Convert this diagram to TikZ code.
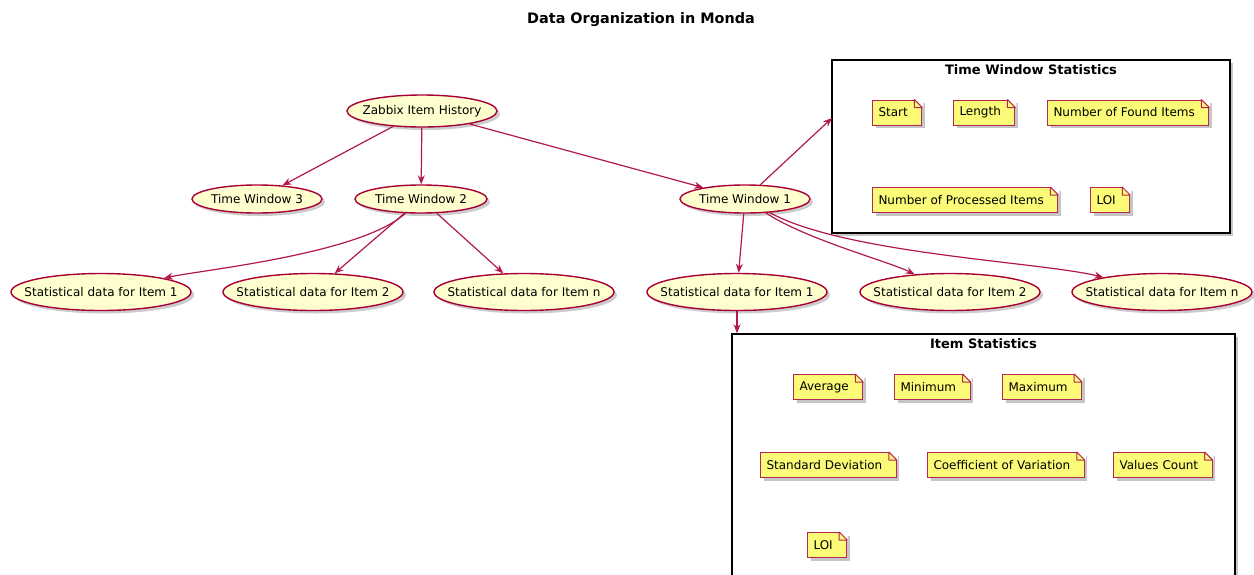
\documentclass[tikz,border=0pt]{standalone}
\usepackage{fontspec}
\setmainfont{DejaVu Sans}
\usetikzlibrary{shapes,arrows.meta,positioning,calc,shadows}

\definecolor{umlred}{HTML}{A80036}
\definecolor{ucfill}{HTML}{FEFECE}
\definecolor{notefill}{HTML}{FBFB77}

\tikzset{
    usecase/.style={ellipse, draw=umlred, line width=1.4pt, fill=ucfill, inner sep=0pt,
        minimum height=28pt, font=\fontsize{12}{14}\selectfont,
        drop shadow={shadow xshift=3pt, shadow yshift=-3pt, opacity=.4}},
    notebox/.style={rectangle, draw=umlred!85, line width=1pt, fill=notefill,
        inner xsep=6pt, inner ysep=0pt, minimum height=25pt, font=\fontsize{12}{14}\selectfont,
        drop shadow={shadow xshift=3pt, shadow yshift=-3pt, opacity=.45}},
    notefold/.style={draw=umlred!85, line width=1pt, fill=notefill, line join=bevel},
    groupbox/.style={rectangle, draw=black, line width=1.5pt, fill=white,
        drop shadow={shadow xshift=3pt, shadow yshift=-3pt, opacity=.45}},
    grouptitle/.style={font=\bfseries\fontsize{13}{15}\selectfont},
    link/.style={draw=umlred!90, line width=1.2pt, -{Stealth[length=9pt,width=7pt]}},
}

% text of a use case, the ellipse takes its size from minimum width
\newcommand{\uctext}[1]{\makebox[0pt]{#1}}

% note with a folded corner: name, west point, text
\newcommand{\statnote}[3]{%
    \node[notebox, anchor=west] (#1) at (#2) {#3\kern8pt};
    \fill[white] ($(#1.north east)+(-8.5,-1)$) -- ($(#1.north east)+(1,-1)$) -- ($(#1.north east)+(1,8.5)$) -- cycle;
    \filldraw[notefold] ($(#1.north east)+(-8,0)$) -- ($(#1.north east)+(-8,8)$) -- ($(#1.north east)+(0,8)$) -- cycle;
}

\begin{document}
\begin{tikzpicture}[x=1pt, y=-1pt]
    \clip (0,0) rectangle (1254,574);

    \node[font=\bfseries\fontsize{14.4}{17}\selectfont] (title) at (641,20) {Data Organization in Monda};

    % groups
    \node[groupbox, minimum width=398pt, minimum height=173pt] (tws) at (1031,146.5) {};
    \node[grouptitle] (twstitle) at (1031,70) {Time Window Statistics};
    \node[groupbox, minimum width=503pt, minimum height=290pt] (items) at (983.5,479) {};
    \node[grouptitle] (itemstitle) at (983.5,344) {Item Statistics};

    % use cases
    \node[usecase, minimum width=150pt, minimum height=32pt] (zbx) at (422,111) {\uctext{Zabbix Item History}};
    \node[usecase, minimum width=130pt] (tw3) at (257,199) {\uctext{Time Window 3}};
    \node[usecase, minimum width=132pt] (tw2) at (421,199) {\uctext{Time Window 2}};
    \node[usecase, minimum width=130pt] (tw1) at (745,199) {\uctext{Time Window 1}};

    \node[usecase, minimum width=180pt, minimum height=37pt] (stat21) at (101,292) {\uctext{Statistical data for Item 1}};
    \node[usecase, minimum width=180pt, minimum height=37pt] (stat22) at (313,292) {\uctext{Statistical data for Item 2}};
    \node[usecase, minimum width=180pt, minimum height=37pt] (stat2n) at (524,292) {\uctext{Statistical data for Item n}};
    \node[usecase, minimum width=180pt, minimum height=37pt] (stat11) at (737,292) {\uctext{Statistical data for Item 1}};
    \node[usecase, minimum width=180pt, minimum height=37pt] (stat12) at (950,292) {\uctext{Statistical data for Item 2}};
    \node[usecase, minimum width=180pt, minimum height=37pt] (stat1n) at (1162,292) {\uctext{Statistical data for Item n}};

    % notes
    \statnote{start}{872,112.5}{Start}
    \statnote{length}{953,112.5}{Length}
    \statnote{found}{1047,112.5}{Number of Found Items}
    \statnote{processed}{872,200}{Number of Processed Items}
    \statnote{twloi}{1090,200}{LOI}

    \statnote{average}{793,387}{Average}
    \statnote{minimum}{894,387}{Minimum}
    \statnote{maximum}{1002,387}{Maximum}
    \statnote{stddev}{760,465}{Standard Deviation}
    \statnote{coefvar}{927,465}{Coefficient of Variation}
    \statnote{valcount}{1113,465}{Values Count}
    \statnote{itemloi}{807,545}{LOI}

    % links
    \draw[link] (zbx) -- (tw3);
    \draw[link] (zbx) -- (tw2);
    \draw[link] (zbx) -- (tw1);
    \draw[link] (tw2) .. controls +(-60,55) and +(100,-22) .. (stat21);
    \draw[link] (tw2) -- (stat22);
    \draw[link] (tw2) -- (stat2n);
    \draw[link] (tw1) -- (stat11);
    \draw[link] (tw1) .. controls +(60,40) and +(-60,-30) .. (stat12);
    \draw[link] (tw1) .. controls +(100,55) and +(-120,-30) .. (stat1n);
    \coordinate (twsin) at (832,118);
    \draw[link] (tw1) -- (twsin);
    \draw[link] (stat11) -- (stat11 |- items.north);
\end{tikzpicture}
\end{document}
